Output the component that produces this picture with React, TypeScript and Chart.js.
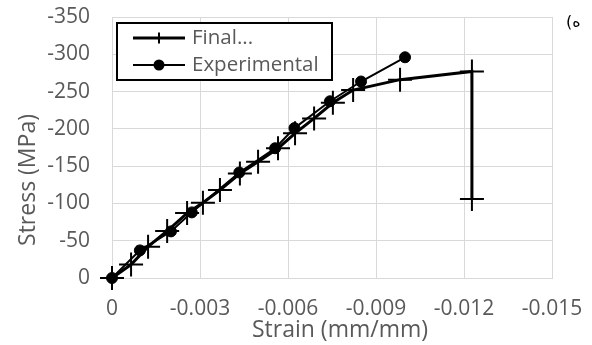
import React, { useEffect, useRef } from 'react';
import { Chart, registerables } from 'chart.js';

Chart.register(...registerables);

// ---- data ----
const seriesLabels = ['Final...', 'Experimental'];

const finalStrain = [0, -0.00065, -0.00123, -0.00188, -0.00256, -0.0031, -0.00368, -0.00436, -0.00498, -0.00566, -0.00624, -0.00689, -0.00753, -0.00822, -0.00982, -0.01227, -0.01227];
const finalStress = [0, -18, -42, -63, -87, -101, -118, -140, -156, -174, -194, -214, -235, -252, -266, -277, -106];

const expStrain = [0, -0.00095, -0.00201, -0.00272, -0.00434, -0.00556, -0.00622, -0.00743, -0.00849, -0.00999];
const expStress = [0, -37, -62.5, -88, -141.5, -174, -201, -237, -263.5, -296];

const xMin = -0.015;
const xMax = 0;
const xStep = 0.003;
const yMin = -350;
const yMax = 0;
const yStep = 50;

const xTitle = 'Strain (mm/mm)';
const yTitle = 'Stress (MPa)';
const panelLabel = '(ه';

const GRAY = '#595959';
const GRID = '#d9d9d9';
const FONT = '"Open Sans", "DejaVu Sans", sans-serif';

function drawCross(ctx: CanvasRenderingContext2D, x: number, y: number, r: number) {
  ctx.beginPath();
  ctx.moveTo(x - r, y);
  ctx.lineTo(x + r, y);
  ctx.moveTo(x, y - r);
  ctx.lineTo(x, y + r);
  ctx.stroke();
}

const overlayPlugin = {
  id: 'overlay',
  afterDraw(chart: any) {
    const ctx: CanvasRenderingContext2D = chart.ctx;
    ctx.save();
    // axis titles
    ctx.fillStyle = GRAY;
    ctx.font = `23px ${FONT}`;
    ctx.textAlign = 'center';
    ctx.textBaseline = 'alphabetic';
    ctx.fillText(xTitle, 340, 337);
    ctx.save();
    ctx.translate(35, 180);
    ctx.rotate(-Math.PI / 2);
    ctx.fillText(yTitle, 0, 0);
    ctx.restore();

    // legend box
    const bx = 117, by = 23, bw = 215, bh = 57;
    ctx.fillStyle = '#ffffff';
    ctx.fillRect(bx, by, bw, bh);
    ctx.strokeStyle = '#000';
    ctx.lineWidth = 2;
    ctx.strokeRect(bx, by, bw, bh);

    const ds = chart.data.datasets;
    const rows = [38, 65];
    ds.forEach((d: any, i: number) => {
      const y = rows[i];
      ctx.strokeStyle = d.borderColor;
      ctx.lineWidth = d.borderWidth;
      ctx.beginPath();
      ctx.moveTo(133, y);
      ctx.lineTo(185, y);
      ctx.stroke();
      if (d.pointStyle === 'cross') {
        ctx.lineWidth = 2;
        drawCross(ctx, 159, y, 5.5);
      } else {
        ctx.fillStyle = d.pointBackgroundColor;
        ctx.beginPath();
        ctx.arc(159, y, 5.5, 0, Math.PI * 2);
        ctx.fill();
      }
      ctx.fillStyle = GRAY;
      ctx.font = `20.5px ${FONT}`;
      ctx.textAlign = 'left';
      ctx.textBaseline = 'middle';
      ctx.fillText(d.label, 192, y);
    });

    // panel label
    ctx.fillStyle = '#000';
    ctx.font = '16px "DejaVu Sans", sans-serif';
    ctx.textAlign = 'left';
    ctx.textBaseline = 'alphabetic';
    ctx.fillText(panelLabel, 566, 27);
    ctx.restore();
  },
};

export default function App() {
  const ref = useRef<HTMLCanvasElement | null>(null);

  useEffect(() => {
    if (!ref.current) return;
    const chart = new Chart(ref.current, {
      type: 'line',
      data: {
        datasets: [
          {
            label: seriesLabels[0],
            data: finalStrain.map((x, i) => ({ x, y: finalStress[i] })),
            borderColor: '#000',
            backgroundColor: '#000',
            borderWidth: 3,
            pointStyle: 'cross',
            pointRadius: 12,
            pointBorderWidth: 2,
            pointBorderColor: '#000',
            pointBackgroundColor: '#000',
            tension: 0,
            clip: false,
          } as any,
          {
            label: seriesLabels[1],
            data: expStrain.map((x, i) => ({ x, y: expStress[i] })),
            borderColor: '#000',
            backgroundColor: '#000',
            borderWidth: 2,
            pointStyle: 'circle',
            pointRadius: 5.5,
            pointBorderWidth: 1,
            pointBorderColor: '#000',
            pointBackgroundColor: '#000',
            tension: 0,
            clip: false,
          } as any,
        ],
      },
      options: {
        responsive: false,
        animation: false,
        layout: { padding: { top: 17, right: 40, left: 0, bottom: 0 } },
        plugins: {
          legend: { display: false },
          tooltip: { enabled: false },
        },
        scales: {
          x: {
            type: 'linear',
            min: xMin,
            max: xMax,
            reverse: true,
            ticks: {
              stepSize: xStep,
              color: GRAY,
              font: { family: FONT, size: 21 },
              padding: 18,
              maxRotation: 0,
              callback: (v: any) => (Math.abs(Number(v)) < 1e-9 ? '0' : Number(v).toFixed(3)),
            },
            grid: { color: GRID, lineWidth: 1, drawTicks: false },
            border: { color: GRID, width: 1 },
            afterFit: (s: any) => {
              s.height = 67;
              s.paddingTop = 0;
              s.paddingBottom = 0;
              s.paddingLeft = 0;
              s.paddingRight = 0;
            },
          },
          y: {
            type: 'linear',
            min: yMin,
            max: yMax,
            reverse: true,
            ticks: {
              stepSize: yStep,
              color: GRAY,
              font: { family: FONT, size: 21 },
              padding: 22,
            },
            grid: { color: GRID, lineWidth: 1, drawTicks: false },
            border: { color: GRID, width: 1 },
            afterFit: (s: any) => {
              s.width = 112;
              s.paddingTop = 0;
              s.paddingBottom = 0;
              s.paddingLeft = 0;
              s.paddingRight = 0;
            },
          },
        },
      },
      plugins: [overlayPlugin],
    });
    return () => chart.destroy();
  }, []);

  return (
    <div style={{ position: 'absolute', left: 0, top: 0, width: 592, height: 345, background: '#fff' }}>
      <canvas ref={ref} width={592} height={345} />
    </div>
  );
}
